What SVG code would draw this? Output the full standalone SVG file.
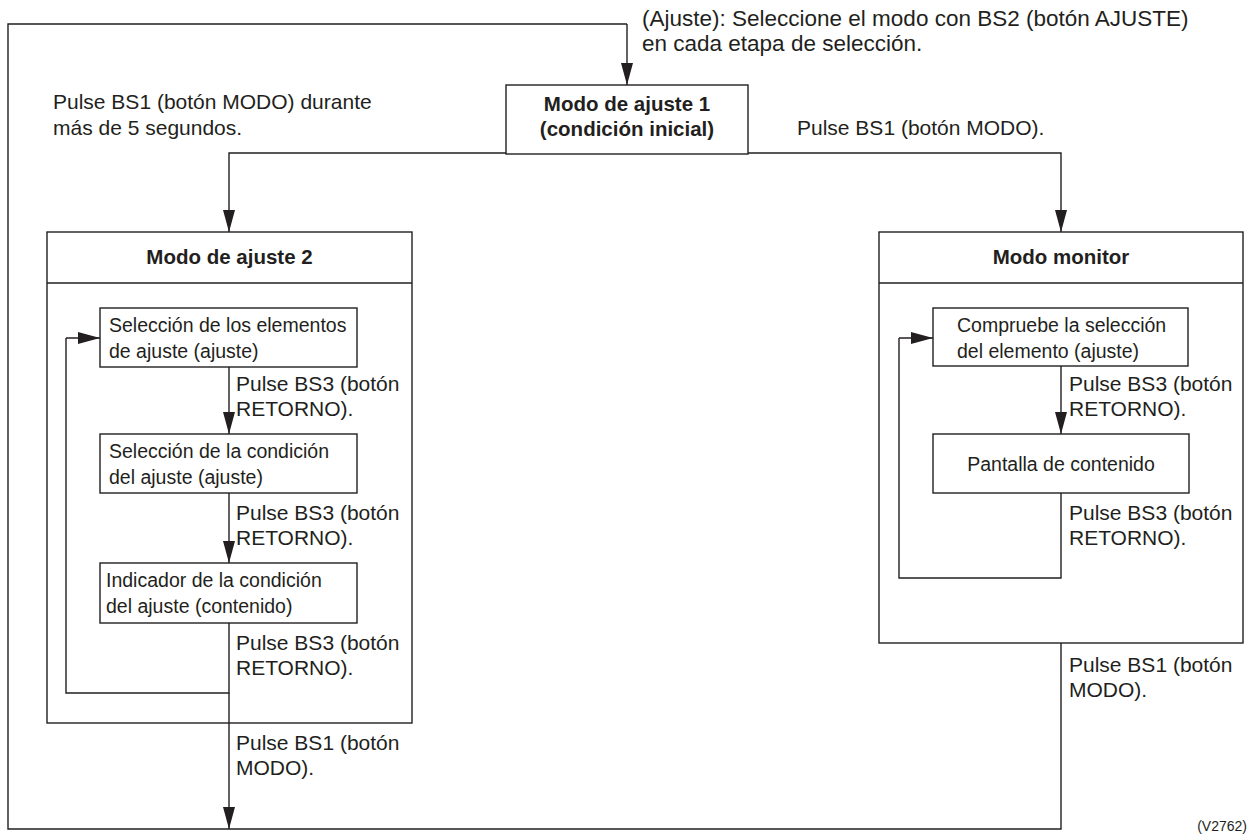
<svg xmlns="http://www.w3.org/2000/svg" width="1250" height="835" viewBox="0 0 1250 835">
  <defs>
    <marker id="arrow" markerUnits="userSpaceOnUse" markerWidth="22" markerHeight="12" refX="22" refY="6" viewBox="0 0 22 12" orient="auto">
      <path d="M0,0 L22,6 L0,12 Z" fill="#231f20"/>
    </marker>
    <style>
      .box { fill: #ffffff; stroke: #231f20; stroke-width: 1.4; }
      .line { fill: none; stroke: #231f20; stroke-width: 1.4; }
      .arr { fill: none; stroke: #231f20; stroke-width: 1.4; marker-end: url(#arrow); }
      text { font-family: "Liberation Sans", Arial, Helvetica, sans-serif; fill: #231f20; font-size: 21px; }
      .note { font-size: 22.5px; }
      .step { font-size: 19.5px; }
      .title { font-weight: bold; text-anchor: middle; font-size: 20.5px; }
      .mid { text-anchor: middle; }
      .small { font-size: 14px; }
    </style>
  </defs>

  <rect width="1250" height="835" fill="#ffffff"/>

  <!-- connectors -->
  <g id="connectors">
    <!-- return path from monitor mode back to adjust mode 1 -->
    <path class="line" d="M1061,643 L1061,829 L8,829 L8,24 L627,24"/>
    <path class="arr" d="M627,24 L627,85"/>
    <!-- adjust mode 1 to adjust mode 2 -->
    <path class="arr" d="M506,153 L229,153 L229,232"/>
    <!-- adjust mode 1 to monitor mode -->
    <path class="arr" d="M748,153 L1061,153 L1061,232"/>
    <!-- adjust mode 2 internal steps -->
    <path class="arr" d="M229,367 L229,434"/>
    <path class="arr" d="M229,493 L229,563"/>
    <path class="line" d="M229,623 L229,693 L66,693 L66,338"/>
    <path class="arr" d="M66,338 L100,338"/>
    <!-- adjust mode 2 exit -->
    <path class="arr" d="M229,693 L229,829"/>
    <!-- monitor mode internal steps -->
    <path class="arr" d="M1061,366 L1061,434"/>
    <path class="line" d="M1061,493 L1061,578 L899,578 L899,338"/>
    <path class="arr" d="M899,338 L933,338"/>
  </g>

  <!-- connector labels -->
  <g id="labels">
    <text class="note" x="642" y="26">(Ajuste): Seleccione el modo con BS2 (botón AJUSTE)</text>
    <text class="note" x="642" y="51">en cada etapa de selección.</text>
    <text x="53" y="109">Pulse BS1 (botón MODO) durante</text>
    <text x="53" y="135">más de 5 segundos.</text>
    <text x="797" y="135">Pulse BS1 (botón MODO).</text>

    <text x="236" y="391">Pulse BS3 (botón</text>
    <text x="236" y="416">RETORNO).</text>
    <text x="236" y="520">Pulse BS3 (botón</text>
    <text x="236" y="545">RETORNO).</text>
    <text x="236" y="650">Pulse BS3 (botón</text>
    <text x="236" y="675">RETORNO).</text>
    <text x="236" y="750">Pulse BS1 (botón</text>
    <text x="236" y="775">MODO).</text>

    <text x="1069" y="391">Pulse BS3 (botón</text>
    <text x="1069" y="416">RETORNO).</text>
    <text x="1069" y="520">Pulse BS3 (botón</text>
    <text x="1069" y="545">RETORNO).</text>
    <text x="1069" y="672">Pulse BS1 (botón</text>
    <text x="1069" y="697">MODO).</text>

    <text class="small" x="1247" y="831" text-anchor="end">(V2762)</text>
  </g>

  <!-- Adjust mode 1 (initial condition) -->
  <g id="mode-adjust-1">
    <rect class="box" x="506" y="85" width="242" height="69"/>
    <text class="title" x="627" y="111">Modo de ajuste 1</text>
    <text class="title" x="627" y="136">(condición inicial)</text>
  </g>

  <!-- Adjust mode 2 -->
  <g id="mode-adjust-2">
    <rect class="line" x="47" y="232" width="365" height="491"/>
    <line class="line" x1="47" y1="283" x2="412" y2="283"/>
    <text class="title" x="229.5" y="264">Modo de ajuste 2</text>
  </g>

  <g id="select-items">
    <rect class="box" x="100" y="308" width="257" height="59"/>
    <text class="step" x="109" y="332">Selección de los elementos</text>
    <text class="step" x="109" y="358">de ajuste (ajuste)</text>
  </g>

  <g id="select-condition">
    <rect class="box" x="100" y="434" width="257" height="59"/>
    <text class="step" x="109" y="458">Selección de la condición</text>
    <text class="step" x="109" y="484">del ajuste (ajuste)</text>
  </g>

  <g id="condition-indicator">
    <rect class="box" x="100" y="563" width="257" height="60"/>
    <text class="step" x="106" y="587">Indicador de la condición</text>
    <text class="step" x="106" y="613">del ajuste (contenido)</text>
  </g>

  <!-- Monitor mode -->
  <g id="mode-monitor">
    <rect class="line" x="879" y="232" width="364" height="411"/>
    <line class="line" x1="879" y1="283" x2="1243" y2="283"/>
    <text class="title" x="1061" y="264">Modo monitor</text>
  </g>

  <g id="check-selection">
    <rect class="box" x="933" y="308" width="255" height="58"/>
    <text class="step" x="957" y="332">Compruebe la selección</text>
    <text class="step" x="957" y="358">del elemento (ajuste)</text>
  </g>

  <g id="content-screen">
    <rect class="box" x="933" y="434" width="256" height="59"/>
    <text class="step mid" x="1061" y="471">Pantalla de contenido</text>
  </g>
</svg>
